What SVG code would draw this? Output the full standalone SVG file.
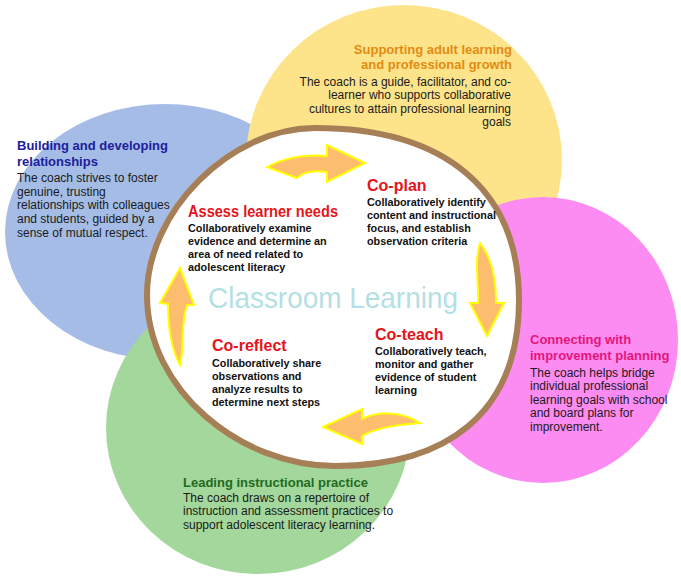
<svg xmlns="http://www.w3.org/2000/svg" width="681" height="580" viewBox="0 0 681 580">
<style>
text{font-family:"Liberation Sans",Arial,sans-serif;}
.h{font-size:13px;font-weight:bold;}
.b{font-size:12px;fill:#1a1a1a;}
.ch{font-size:16px;font-weight:bold;fill:#e4141b;}
.cb{font-size:10.8px;font-weight:bold;fill:#111;}
.arrow{fill:#fcbd6f;stroke:#ffff00;stroke-width:2;stroke-linejoin:miter;}
</style>
<rect width="681" height="580" fill="#ffffff"/>
<g id="node-relationships">
<ellipse cx="165" cy="232" rx="160" ry="128" fill="#a5bde6"/>
<text class="h" fill="#1c1c9c"><tspan x="17" y="150">Building and developing</tspan><tspan x="17" y="166">relationships</tspan></text>
<text class="b"><tspan x="17" y="182">The coach strives to foster</tspan><tspan x="17" y="196">genuine, trusting</tspan><tspan x="17" y="209">relationships with colleagues</tspan><tspan x="17" y="223">and students, guided by a</tspan><tspan x="17" y="237">sense of mutual respect.</tspan></text>
</g>
<g id="node-adult-learning">
<ellipse cx="404" cy="160" rx="158" ry="155" fill="#fde48a"/>
<text class="h" fill="#e38b12" text-anchor="end"><tspan x="512" y="54">Supporting adult learning</tspan><tspan x="512" y="69">and professional growth</tspan></text>
<text class="b" text-anchor="end"><tspan x="511" y="86">The coach is a guide, facilitator, and co-</tspan><tspan x="511" y="99">learner who supports collaborative</tspan><tspan x="511" y="113">cultures to attain professional learning</tspan><tspan x="511" y="126">goals</tspan></text>
</g>
<g id="node-improvement">
<ellipse cx="543" cy="340" rx="135" ry="143" fill="#fd8cf2"/>
<text class="h" fill="#e5157a"><tspan x="530" y="344">Connecting with</tspan><tspan x="530" y="360">improvement planning</tspan></text>
<text class="b"><tspan x="530" y="377">The coach helps bridge</tspan><tspan x="530" y="390">individual professional</tspan><tspan x="530" y="404">learning goals with school</tspan><tspan x="530" y="417">and board plans for</tspan><tspan x="530" y="431">improvement.</tspan></text>
</g>
<g id="node-instructional">
<ellipse cx="258" cy="428" rx="152" ry="146" fill="#a3d79b"/>
<text class="h" fill="#1f6b1f"><tspan x="183" y="487">Leading instructional practice</tspan></text>
<text class="b"><tspan x="183" y="502">The coach draws on a repertoire of</tspan><tspan x="183" y="515">instruction and assessment practices to</tspan><tspan x="183" y="529">support adolescent literacy learning.</tspan></text>
</g>
<g id="node-classroom">
<path d="M147,295 C147,212 230,128 315,128 C445,128 519,190 519,300 C519,415 445,466 335,466 C240,466 147,390 147,295 Z" fill="#ffffff" stroke="#a67f57" stroke-width="6"/>
<text x="208" y="308" font-size="30" fill="#b4dfe4" textLength="250" lengthAdjust="spacingAndGlyphs">Classroom Learning</text>
</g>
<g id="node-assess">
<text class="ch" x="188" y="217" textLength="150" lengthAdjust="spacingAndGlyphs">Assess learner needs</text>
<text class="cb"><tspan x="188" y="232">Collaboratively examine</tspan><tspan x="188" y="245">evidence and determine an</tspan><tspan x="188" y="258">area of need related to</tspan><tspan x="188" y="271">adolescent literacy</tspan></text>
</g>
<g id="node-coplan">
<text class="ch" x="367" y="191">Co-plan</text>
<text class="cb"><tspan x="367" y="206">Collaboratively identify</tspan><tspan x="367" y="219">content and instructional</tspan><tspan x="367" y="232">focus, and establish</tspan><tspan x="367" y="245">observation criteria</tspan></text>
</g>
<g id="node-coteach">
<text class="ch" x="375" y="340">Co-teach</text>
<text class="cb"><tspan x="375" y="355">Collaboratively teach,</tspan><tspan x="375" y="368">monitor and gather</tspan><tspan x="375" y="381">evidence of student</tspan><tspan x="375" y="394">learning</tspan></text>
</g>
<g id="node-coreflect">
<text class="ch" x="212" y="351">Co-reflect</text>
<text class="cb"><tspan x="212" y="367">Collaboratively share</tspan><tspan x="212" y="380">observations and</tspan><tspan x="212" y="393">analyze results to</tspan><tspan x="212" y="406">determine next steps</tspan></text>
</g>
<g id="connectors">
<path class="arrow" d="M267,167 Q292,153 327,156 L327,145 L365,163 L327,182 L327,172 Q306,169 297,178 Z"/>
<path class="arrow" d="M480,243 C474,262 479,285 478,303 L470,303 L487,336 L504,303 L496,303 C496,280 492,258 480,243 Z"/>
<path class="arrow" d="M323,427 L362,409 L362,419 C375,412 400,410 420,423 C400,424 375,428 362,436 L362,444 Z"/>
<path class="arrow" d="M180,268 L160,303 L168,304 C168,330 172,350 180,365 C185,345 180,325 187,305 L194,305 Z"/>
</g>
</svg>
